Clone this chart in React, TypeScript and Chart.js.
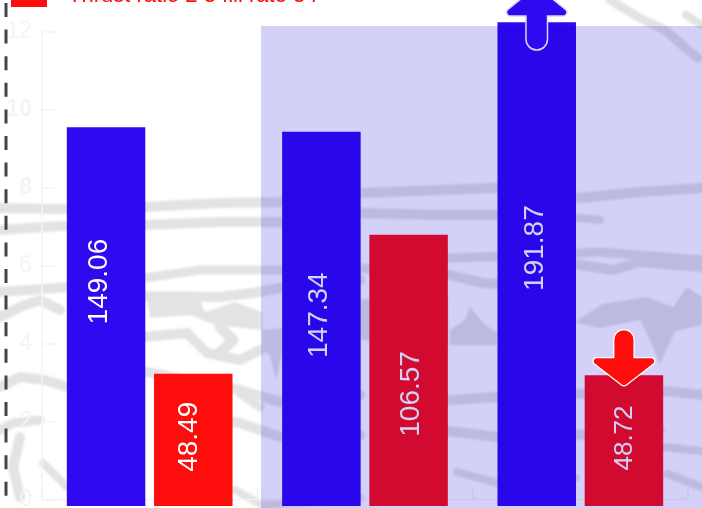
import React, { useEffect, useRef } from "react";
import { Chart, registerables } from "chart.js";

Chart.register(...registerables);

const categories = ["A", "B", "C"];
const blueValues = [9.56, 9.44, 12.25];
const redValues = [3.24, 6.8, 3.2];
const blueLabels = ["149.06", "147.34", "191.87"];
const redLabels = ["48.49", "106.57", "48.72"];
const blueLabelCentres = [5.6, 4.74, 6.46];
const redLabelCentres = [1.62, 2.72, 1.59];
const blueLabelShift = [-7, -2, -1];
const redLabelShift = [-4, 3, 1];
const labelSizes = [[28, 28, 28], [28, 28, 26]];
const tickValues = [0, 2, 4, 6, 8, 10, 12];
const boldTicks = [8, 10];
const legendText = "Thrust ratio 2 3 fill rate 3 r";

const BLUE = "#3009f0";
const RED = "#ff0d0d";
const FONT = "'Liberation Sans', Arial, sans-serif";

type Line = { w: number; p: number[] };
const streaks: Line[] = [
  { w: 10, p: [0, 208, 60, 209, 145, 207, 220, 203, 280, 202, 360, 193, 440, 190, 520, 187, 580, 198, 640, 192, 702, 188] },
  { w: 10, p: [0, 230, 60, 226, 145, 225, 220, 222, 280, 222, 360, 213, 440, 215, 497, 215] },
  { w: 8, p: [500, 217, 540, 214, 600, 220] },
  { w: 9, p: [145, 278, 200, 270, 280, 270, 360, 268, 400, 272] },
  { w: 9, p: [450, 258, 540, 255, 600, 252, 702, 260] },
  { w: 10, p: [0, 292, 70, 287, 145, 296, 220, 297, 253, 293, 280, 288, 360, 280] },
  { w: 10, p: [450, 275, 483, 283, 520, 285, 575, 264, 613, 270, 640, 262, 702, 267] },
  { w: 10, p: [0, 317, 20, 307, 40, 300, 60, 310] },
  { w: 11, p: [220, 327, 233, 340, 220, 353] },
  { w: 10, p: [145, 337, 187, 333, 207, 353, 240, 360, 260, 350] },
  { w: 10, p: [0, 387, 20, 377, 45, 380, 67, 387] },
  { w: 10, p: [147, 372, 240, 390, 280, 402, 360, 395] },
  { w: 10, p: [220, 420, 240, 423, 280, 437, 360, 435] },
  { w: 9, p: [240, 393, 260, 407] },
  { w: 10, p: [450, 400, 497, 397, 575, 394, 667, 391, 702, 395] },
  { w: 10, p: [448, 431, 497, 437, 575, 435, 660, 430] },
  { w: 9, p: [0, 430, 13, 423, 40, 420] },
  { w: 10, p: [20, 437, 13, 467, 20, 497] },
  { w: 8, p: [43, 463, 67, 487] },
  { w: 8, p: [457, 472, 497, 483, 575, 478] },
  { w: 8, p: [663, 447, 702, 451] },
  { w: 8, p: [667, 474, 702, 487] },
  { w: 8, p: [235, 490, 262, 505, 360, 498] },
  { w: 9, p: [610, 0, 640, 18, 665, 30, 690, 52, 698, 58] },
  { w: 8, p: [686, 15, 702, 25] },
];
const blobs: number[][] = [
  [262, 330, 282, 328, 282, 352, 276, 380, 270, 355, 262, 350],
  [450, 345, 450, 330, 465, 320, 470, 307, 485, 325, 497, 332, 497, 345],
  [575, 322, 603, 304, 647, 297, 673, 307, 687, 287, 702, 297, 702, 325, 675, 331, 660, 364, 650, 340, 640, 320, 600, 328],
  [147, 296, 200, 300, 205, 312, 235, 302, 262, 312, 262, 330, 215, 325, 190, 315, 150, 318],
  [360, 300, 400, 295, 448, 300, 448, 345, 360, 340],
];

function tracePolyline(ctx: CanvasRenderingContext2D, p: number[]) {
  ctx.beginPath();
  ctx.moveTo(p[0], p[1]);
  for (let i = 2; i < p.length; i += 2) ctx.lineTo(p[i], p[i + 1]);
}

const paperPlugin = {
  id: "paper",
  beforeDraw(chart: any) {
    const { ctx } = chart;
    ctx.save();
    ctx.fillStyle = "#fff";
    ctx.fillRect(0, 0, 702, 508);
    ctx.save();
    ctx.filter = "blur(1.2px)";
    ctx.strokeStyle = "#e3e3e3";
    ctx.fillStyle = "#e3e3e3";
    ctx.lineJoin = "round";
    ctx.lineCap = "round";
    streaks.forEach((s) => {
      ctx.lineWidth = s.w;
      tracePolyline(ctx, s.p);
      ctx.stroke();
    });
    blobs.forEach((b) => {
      tracePolyline(ctx, b);
      ctx.closePath();
      ctx.fill();
    });
    ctx.restore();
    // faint axes
    const y = chart.scales.y;
    const area = chart.chartArea;
    ctx.strokeStyle = "#f8f5f3";
    ctx.lineWidth = 1.5;
    ctx.lineCap = "butt";
    ctx.beginPath();
    ctx.moveTo(area.left, y.getPixelForValue(12));
    ctx.lineTo(area.left, y.getPixelForValue(0));
    tickValues.forEach((t) => {
      const py = y.getPixelForValue(t);
      ctx.moveTo(area.left, py);
      ctx.lineTo(area.left + 16, py);
    });
    ctx.stroke();
    ctx.strokeStyle = "#f3f3f3";
    ctx.beginPath();
    ctx.moveTo(area.left, area.bottom - 0.5);
    ctx.lineTo(area.right, area.bottom - 0.5);
    const slot = (area.right - area.left) / categories.length;
    for (let i = 0; i <= categories.length; i++) {
      ctx.moveTo(area.left + slot * i, area.bottom);
      ctx.lineTo(area.left + slot * i, area.bottom - 12);
    }
    ctx.stroke();
    // dashed rule
    ctx.strokeStyle = "#444";
    ctx.lineWidth = 3;
    ctx.setLineDash([14, 12.6]);
    ctx.beginPath();
    ctx.moveTo(6, 3);
    ctx.lineTo(6, 508);
    ctx.stroke();
    ctx.restore();
  },
};

function roundedPath(ctx: CanvasRenderingContext2D, pts: number[][]) {
  const n = pts.length;
  const mid = (a: number[], b: number[]) => [(a[0] + b[0]) / 2, (a[1] + b[1]) / 2];
  const start = mid(pts[n - 1], pts[0]);
  ctx.beginPath();
  ctx.moveTo(start[0], start[1]);
  pts.forEach((pt, i) => {
    const next = pts[(i + 1) % n];
    ctx.arcTo(pt[0], pt[1], next[0], next[1], pt[2]);
  });
  ctx.closePath();
}

function arrowPoints(cx: number, top: number, up: boolean) {
  if (up) {
    const b = top - 7;
    return [
      [cx, top - 35, 3],
      [cx + 35, b, 3],
      [cx + 10, b, 0.1],
      [cx + 10, top + 27, 10],
      [cx - 10, top + 27, 10],
      [cx - 10, b, 0.1],
      [cx - 35, b, 3],
    ];
  }
  const b = top - 17;
  return [
    [cx, top + 11, 4],
    [cx - 36, b, 3],
    [cx - 9.5, b, 0.1],
    [cx - 9.5, top - 45, 9.5],
    [cx + 9.5, top - 45, 9.5],
    [cx + 9.5, b, 0.1],
    [cx + 36, b, 3],
  ];
}

const overlayPlugin = {
  id: "overlay",
  afterDatasetsDraw(chart: any) {
    const { ctx } = chart;
    const y = chart.scales.y;
    ctx.save();
    // value labels
    const texts = [blueLabels, redLabels];
    const centres = [blueLabelCentres, redLabelCentres];
    const shifts = [blueLabelShift, redLabelShift];
    [0, 1].forEach((d) => {
      chart.getDatasetMeta(d).data.forEach((bar: any, i: number) => {
        ctx.save();
        ctx.translate(bar.x + shifts[d][i], y.getPixelForValue(centres[d][i]));
        ctx.rotate(-Math.PI / 2);
        ctx.fillStyle = "#fff";
        ctx.font = `${labelSizes[d][i]}px ${FONT}`;
        ctx.textAlign = "center";
        ctx.textBaseline = "middle";
        ctx.fillText(texts[d][i], 0, 0);
        ctx.restore();
      });
    });
    // shaded band
    ctx.fillStyle = "rgba(10,0,210,0.18)";
    ctx.fillRect(261, 26, 441, 482);
    // arrows
    const upBar = chart.getDatasetMeta(0).data[2];
    const downBar = chart.getDatasetMeta(1).data[2];
    roundedPath(ctx, arrowPoints(upBar.x, upBar.y, true));
    ctx.strokeStyle = "#d8d6fb";
    ctx.lineWidth = 3;
    ctx.stroke();
    ctx.fillStyle = BLUE;
    ctx.fill();
    roundedPath(ctx, arrowPoints(downBar.x, downBar.y, false));
    ctx.strokeStyle = "#fff";
    ctx.lineWidth = 2.5;
    ctx.stroke();
    ctx.fillStyle = RED;
    ctx.fill();
    // legend, running off the top edge
    ctx.fillStyle = RED;
    ctx.fillRect(11, -10, 36, 17);
    ctx.font = `22px ${FONT}`;
    ctx.textAlign = "left";
    ctx.textBaseline = "alphabetic";
    ctx.fillText(legendText, 68, 2);
    ctx.restore();
  },
};

export default function App() {
  const ref = useRef<HTMLCanvasElement>(null);
  useEffect(() => {
    const chart = new Chart(ref.current!, {
      type: "bar",
      data: {
        labels: categories,
        datasets: [
          { label: "Series 1", data: blueValues, backgroundColor: BLUE, base: -0.155, clip: false } as any,
          { label: "Series 2", data: redValues, backgroundColor: RED, base: -0.155, clip: false } as any,
        ],
      },
      options: {
        responsive: false,
        animation: false,
        layout: { padding: { left: 0, top: 32, right: 14, bottom: 8 } },
        datasets: { bar: { categoryPercentage: 0.81, barPercentage: 0.9 } },
        plugins: { legend: { display: false }, tooltip: { enabled: false }, title: { display: false } },
        scales: {
          x: { display: false, offset: true },
          y: {
            min: 0,
            max: 12,
            afterFit: (s: any) => { s.width = 42; s.paddingTop = 0; s.paddingBottom = 0; },
            afterBuildTicks: (s: any) => { s.ticks = tickValues.map((value) => ({ value })); },
            border: { display: false },
            grid: { display: false },
            ticks: {
              padding: 2,
              color: "#f4f4f4",
              font: (c: any) => ({
                family: FONT,
                size: 23,
                weight: boldTicks.includes(c.tick?.value) ? "bold" : "normal",
              }),
            },
          },
        },
      },
      plugins: [paperPlugin, overlayPlugin],
    } as any);
    return () => chart.destroy();
  }, []);
  return (
    <div style={{ position: "fixed", left: 0, top: 0, width: 702, height: 508, overflow: "hidden" }}>
      <canvas ref={ref} width={702} height={508} style={{ display: "block" }} />
    </div>
  );
}
